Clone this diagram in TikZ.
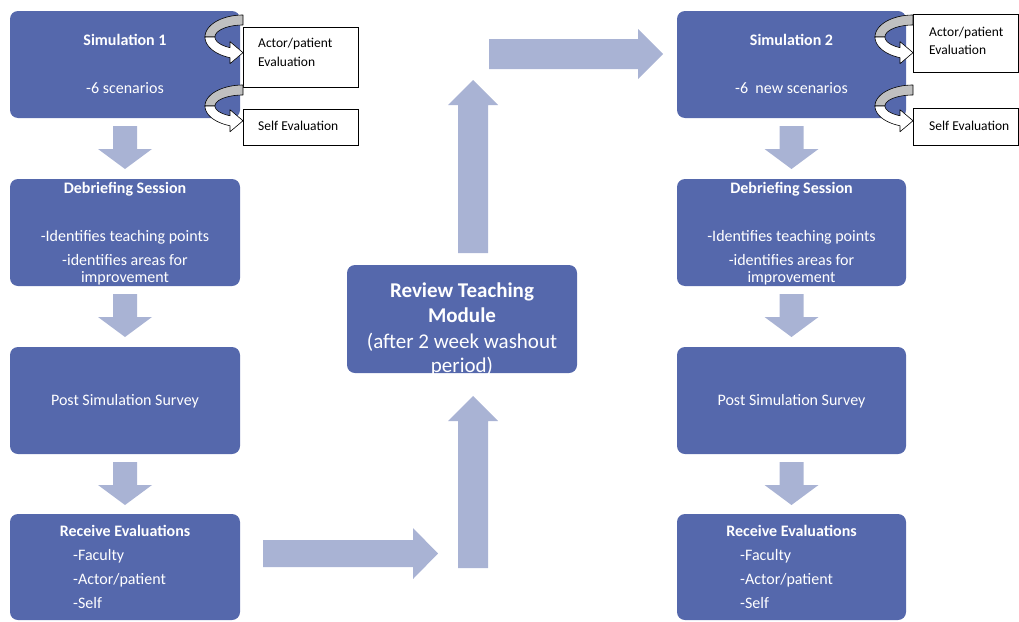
\documentclass[tikz,border=0pt]{standalone}
\usepackage{fontspec}
\setmainfont{Carlito}
\definecolor{boxblue}{RGB}{85,104,172}
\definecolor{arrowblue}{RGB}{169,179,212}
\definecolor{curvegray}{RGB}{192,192,192}
\tikzset{
 box/.style={fill=boxblue, rounded corners=8pt, minimum width=230pt, minimum height=107pt, inner sep=0pt, draw=none},
 smallbox/.style={draw=black, line width=0.9pt, fill=white, inner sep=0pt},
 wt/.style={text=white, font=\fontsize{16}{19}\selectfont, inner sep=0pt, anchor=base},
 wtb/.style={wt, font=\fontsize{16}{19}\selectfont\bfseries},
 wl/.style={wt, anchor=base west},
 rvb/.style={wt, font=\fontsize{21}{25}\selectfont\bfseries},
 rv/.style={wt, font=\fontsize{21}{25}\selectfont},
 bt/.style={text=black, font=\fontsize{13.5}{16}\selectfont, inner sep=0pt, anchor=base west},
 blockarrow/.style={fill=arrowblue},
 curveline/.style={draw=black, line width=0.6pt, line join=round},
}
% down block arrow: center x, top y
\newcommand{\bdown}[2]{%
  \fill[blockarrow] (#1-12,#2) -- (#1+12,#2) -- (#1+12,#2+23) -- (#1+27,#2+23)
    -- (#1,#2+43) -- (#1-27,#2+23) -- (#1-12,#2+23) -- cycle;}
% curved arrow: tip x, center y, outer y radius
\newcommand{\curvedarrow}[3]{%
  \pgfmathsetmacro{\cmid}{#2+(#3*0.94+(#3-10)*0.886)/2}%
  \filldraw[fill=curvegray, curveline]
    plot[domain=270:180, samples=40] ({#1+38*cos(\x)},{#2+#3*sin(\x)})
    -- plot[domain=180:270, samples=40] ({#1+28*cos(\x)},{#2+(#3-10)*sin(\x)}) -- cycle;
  \filldraw[fill=white, curveline]
    plot[domain=180:110, samples=40] ({#1+38*cos(\x)},{#2+#3*sin(\x)})
    -- (#1-13,\cmid+11) -- (#1,\cmid) -- (#1-13,\cmid-11)
    -- plot[domain=117.7:180, samples=40] ({#1+28*cos(\x)},{#2+(#3-10)*sin(\x)}) -- cycle;}
\begin{document}
\begin{tikzpicture}[x=1pt,y=-1pt]
\useasboundingbox (0,0) rectangle (1019,621);
\clip (0,0) rectangle (1019,621);
% ---------- blue boxes ----------
\node[box] (sim1) at (125,64.5) {};
\node[box] (deb1) at (125,232.5) {};
\node[box] (post1) at (125,400.5) {};
\node[box, minimum height=106pt] (rec1) at (125,567) {};
\node[box, minimum width=229pt] (sim2) at (791.5,64.5) {};
\node[box, minimum width=229pt] (deb2) at (791.5,232.5) {};
\node[box, minimum width=229pt] (post2) at (791.5,400.5) {};
\node[box, minimum width=229pt, minimum height=106pt] (rec2) at (791.5,567) {};
\node[box, minimum height=108pt] (review) at (462,319) {};
% ---------- block arrows ----------
\bdown{125}{126}
\bdown{125}{294}
\bdown{125}{462}
\bdown{791.5}{126}
\bdown{791.5}{294}
\bdown{791.5}{462}
\fill[blockarrow] (263,540) -- (413,540) -- (413,528) -- (438,553.5) -- (413,579) -- (413,567) -- (263,567) -- cycle;
\fill[blockarrow] (458,568) -- (458,421) -- (448,421) -- (473,396) -- (498,421) -- (488,421) -- (488,568) -- cycle;
\fill[blockarrow] (458,253) -- (458,105) -- (448,105) -- (473,80) -- (498,105) -- (488,105) -- (488,253) -- cycle;
\fill[blockarrow] (489,39) -- (638,39) -- (638,29) -- (663,54) -- (638,79) -- (638,69) -- (489,69) -- cycle;
% ---------- small white boxes ----------
\node[smallbox, minimum width=115pt, minimum height=60pt] (ap1) at (300.5,57) {};
\node[smallbox, minimum width=115pt, minimum height=36pt] (se1) at (300.5,127) {};
\node[smallbox, minimum width=105pt, minimum height=58pt] (ap2) at (965.5,43) {};
\node[smallbox, minimum width=105pt, minimum height=37pt] (se2) at (965.5,126.5) {};
% ---------- curved arrows ----------
\curvedarrow{243}{37}{22}
\curvedarrow{243}{106}{21}
\curvedarrow{913}{37}{22}
\curvedarrow{913}{106}{21}
% ---------- texts left column ----------
\node[wtb] (t1) at (125,45) {Simulation 1};
\node[wt] (t2) at (125,93.5) {-6 scenarios};
\node[wtb] (t3) at (125,193) {Debriefing Session};
\node[wt] (t4) at (125,241) {-Identifies teaching points};
\node[wt] (t5) at (125,265) {-identifies areas for};
\node[wt] (t6) at (125,282) {improvement};
\node[wt] (t7) at (125,405) {Post Simulation Survey};
\node[wtb] (t8) at (125,536) {Receive Evaluations};
\node[wl] (t9) at (73,560) {-Faculty};
\node[wl] (t10) at (73,584) {-Actor/patient};
\node[wl] (t11) at (73,608) {-Self};
% ---------- texts right column ----------
\node[wtb] (u1) at (791.5,45) {Simulation 2};
\node[wt] (u2) at (791.5,93.5) {-6\ \ new scenarios};
\node[wtb] (u3) at (791.5,193) {Debriefing Session};
\node[wt] (u4) at (791.5,241) {-Identifies teaching points};
\node[wt] (u5) at (791.5,265) {-identifies areas for};
\node[wt] (u6) at (791.5,282) {improvement};
\node[wt] (u7) at (791.5,405) {Post Simulation Survey};
\node[wtb] (u8) at (791.5,536) {Receive Evaluations};
\node[wl] (u9) at (740,560) {-Faculty};
\node[wl] (u10) at (740,584) {-Actor/patient};
\node[wl] (u11) at (740,608) {-Self};
% ---------- review ----------
\node[rvb] (r1) at (462,297) {Review Teaching};
\node[rvb] (r2) at (462,322) {Module};
\node[rv] (r3) at (462,348) {(after 2 week washout};
\node[rv] (r4) at (462,372) {period)};
% ---------- small box texts ----------
\node[bt] (s1) at (258,47) {Actor/patient};
\node[bt] (s2) at (258,66) {Evaluation};
\node[bt] (s3) at (258,130) {Self Evaluation};
\node[bt] (s4) at (929,36) {Actor/patient};
\node[bt] (s5) at (929,54) {Evaluation};
\node[bt] (s6) at (929,130) {Self Evaluation};
\end{tikzpicture}
\end{document}
